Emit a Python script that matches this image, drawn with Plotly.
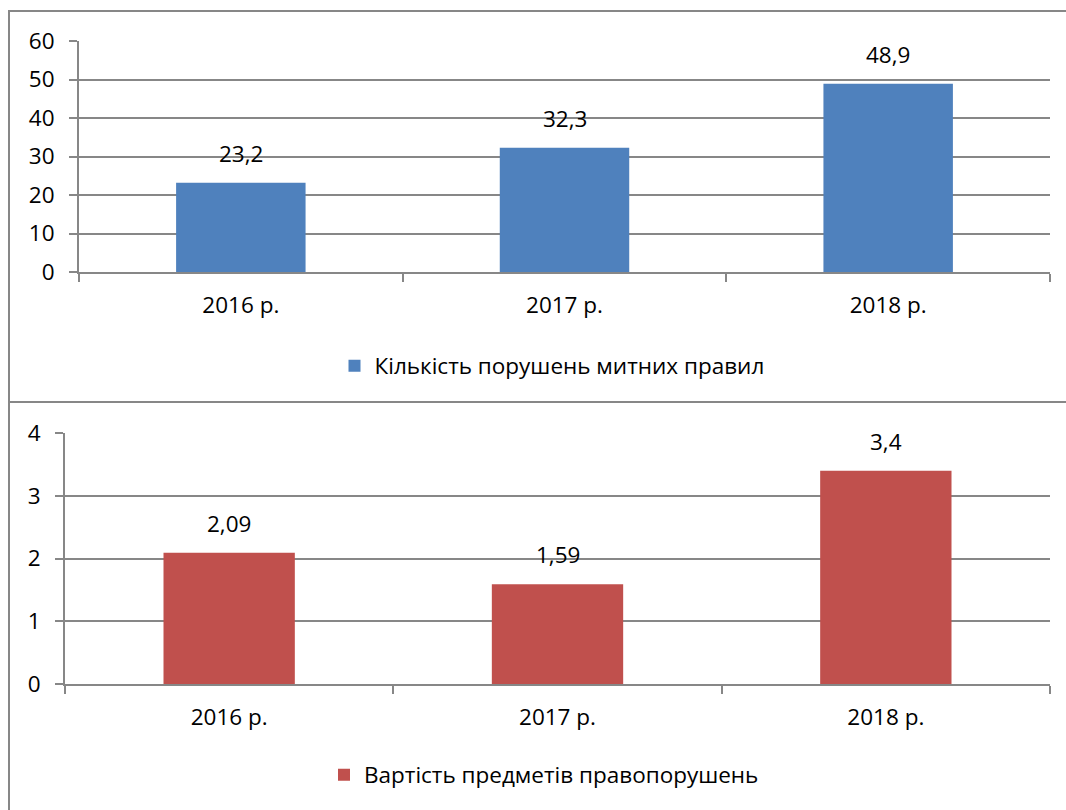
import plotly.graph_objects as go

categories = ["2016 р.", "2017 р.", "2018 р."]
violations = [23.2, 32.3, 48.9]
goods_value = [2.09, 1.59, 3.4]
violations_name = "Кількість порушень митних правил"
goods_name = "Вартість предметів правопорушень"

W, H = 1066, 810
FONT = "Open Sans"
FS = 22.5
GRID = "#878787"

def px(x):
    return x / W

def py(y):
    return 1 - y / H

def fmt(v):
    return f"{v:g}".replace(".", ",")

fig = go.Figure()
fig.add_trace(go.Bar(x=categories, y=violations, name=violations_name,
                     marker=dict(color="#4F81BD", line=dict(width=0)),
                     width=0.4, xaxis="x", yaxis="y", legend="legend"))
fig.add_trace(go.Bar(x=categories, y=goods_value, name=goods_name,
                     marker=dict(color="#C0504D", line=dict(width=0)),
                     width=0.4, xaxis="x2", yaxis="y2", legend="legend2"))

annotations = []
for c, v in zip(categories, violations):
    annotations.append(dict(x=c, y=v, xref="x", yref="y", text=fmt(v), showarrow=False,
                            yanchor="bottom", yshift=12, font=dict(family=FONT, size=FS, color="black")))
for c, v in zip(categories, goods_value):
    annotations.append(dict(x=c, y=v, xref="x2", yref="y2", text=fmt(v), showarrow=False,
                            yanchor="bottom", yshift=12, font=dict(family=FONT, size=FS, color="black")))

axis_common = dict(showline=True, linecolor=GRID, linewidth=2, mirror=False,
                   tickfont=dict(family=FONT, size=FS, color="black"), fixedrange=True,
                   automargin=False)

fig.update_layout(
    width=W, height=H,
    margin=dict(l=0, r=0, t=0, b=0, autoexpand=False),
    paper_bgcolor="white", plot_bgcolor="white",
    font=dict(family=FONT, size=FS, color="black"),
    bargap=0.6,
    xaxis=dict(domain=[px(79), px(1050)], anchor="y", type="category",
               tickson="boundaries", ticks="outside", ticklen=8, tickcolor=GRID, tickwidth=2,
               showgrid=False, ticklabelstandoff=12, **axis_common),
    yaxis=dict(domain=[py(272), py(41)], anchor="x", range=[0, 60], dtick=10,
               ticks="outside", ticklen=8, tickcolor=GRID, tickwidth=2,
               showgrid=True, gridcolor=GRID, gridwidth=2, zeroline=False,
               ticklabelstandoff=10, **axis_common),
    xaxis2=dict(domain=[px(65), px(1050)], anchor="y2", type="category",
                tickson="boundaries", ticks="outside", ticklen=8, tickcolor=GRID, tickwidth=2,
                showgrid=False, ticklabelstandoff=12, **axis_common),
    yaxis2=dict(domain=[py(684), py(433)], anchor="x2", range=[0, 4], dtick=1,
                ticks="outside", ticklen=8, tickcolor=GRID, tickwidth=2,
                showgrid=True, gridcolor=GRID, gridwidth=2, zeroline=False,
                ticklabelstandoff=10, **axis_common),
    legend=dict(orientation="h", x=0.5 + 19 / W, xanchor="center", y=py(366), yanchor="middle",
                font=dict(family=FONT, size=FS, color="black"), bgcolor="rgba(0,0,0,0)"),
    legend2=dict(orientation="h", x=0.5 + 11 / W, xanchor="center", y=py(775), yanchor="middle",
                 font=dict(family=FONT, size=FS, color="black"), bgcolor="rgba(0,0,0,0)"),
    showlegend=True,
    annotations=annotations,
    shapes=[
        dict(type="rect", xref="paper", yref="paper", x0=px(9), x1=px(1070),
             y0=py(402), y1=py(11), line=dict(color=GRID, width=2), fillcolor="rgba(0,0,0,0)", layer="below"),
        dict(type="rect", xref="paper", yref="paper", x0=px(9), x1=px(1070),
             y0=py(815), y1=py(402), line=dict(color=GRID, width=2), fillcolor="rgba(0,0,0,0)", layer="below"),
    ],
)

fig.write_html("out.html", config={"displayModeBar": False},
               post_script="document.body.style.margin='0';document.body.style.overflow='hidden';")
